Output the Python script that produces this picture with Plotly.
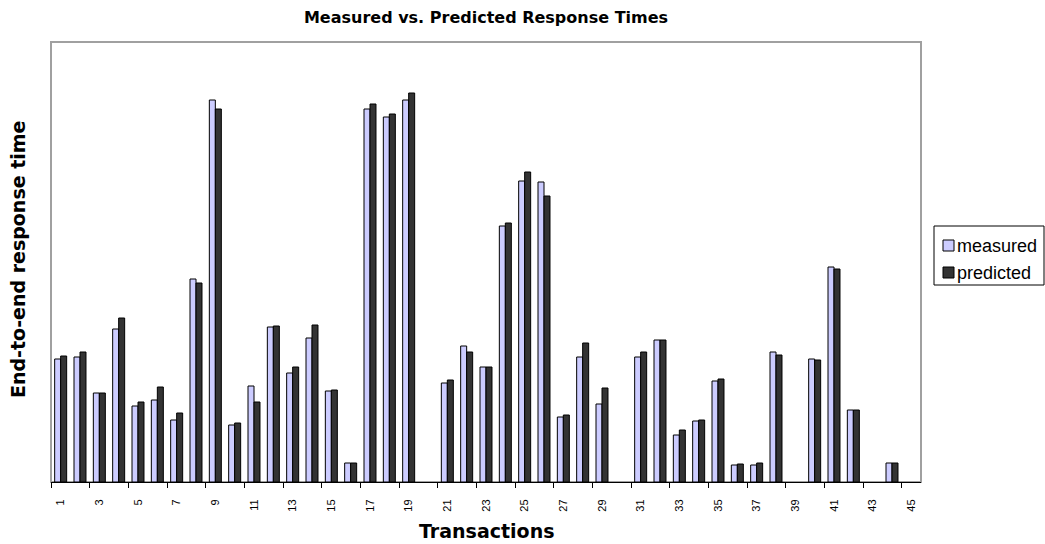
import plotly.graph_objects as go

transactions = [str(i) for i in range(1, 46)]
measured = [123, 125, 89, 153, 76, 82, 62, 203, 382, 57, 96, 155, 109, 144, 91,
            19, 373, 365, 382, None, 99, 136, 115, 256, 301, 300, 65, 125, 78, None,
            125, 142, 47, 61, 101, 17, 17, 130, None, 123, 215, 72, None, 19, None]
predicted = [126, 130, 89, 164, 80, 95, 69, 199, 373, 59, 80, 156, 115, 157, 92,
             19, 378, 368, 389, None, 102, 130, 115, 259, 310, 286, 67, 139, 94, None,
             130, 142, 52, 62, 103, 18, 19, 127, None, 122, 213, 72, None, 19, None]
tick_labels = [str(i) for i in range(1, 46, 2)]
series_names = ["measured", "predicted"]
colors = ["#CCCCFF", "#333333"]

W, H = 1045, 544
L, R, T, B = 51, 124, 42, 62

fig = go.Figure()
for name, vals, col in zip(series_names, [measured, predicted], colors):
    fig.add_trace(go.Bar(x=transactions, y=vals, name=name,
                         marker=dict(color=col, line=dict(color="#000000", width=1)),
                         showlegend=False))

# tick marks sit on the category boundaries left of every labelled category
boundary_ticks = [int(t) - 0.5 for t in tick_labels]
# invisible helper trace so the tick-mark axis is drawn
fig.add_trace(go.Scatter(x=boundary_ticks, y=[0] * len(boundary_ticks), xaxis="x2",
                         mode="markers", marker=dict(opacity=0), showlegend=False,
                         hoverinfo="skip"))

fig.update_layout(
    width=W, height=H,
    margin=dict(l=L, r=R, t=T, b=B, pad=0),
    paper_bgcolor="white", plot_bgcolor="white",
    barmode="group", bargap=0.38, bargroupgap=0,
    font=dict(family="DejaVu Sans", color="black"),
    title=dict(text="<b>Measured vs. Predicted Response Times</b>",
               x=(L + (W - R)) / 2 / W, xanchor="center",
               y=1 - 17 / H, yanchor="middle", yref="container",
               font=dict(size=16, family="DejaVu Sans")),
    xaxis=dict(type="category", tickmode="array", tickvals=tick_labels, ticktext=tick_labels,
               ticks="outside", ticklen=12, tickcolor="rgba(0,0,0,0)",
               tickangle=-90, tickfont=dict(size=11, family="Liberation Sans"),
               showline=True, linecolor="black", linewidth=1, showgrid=False,
               zeroline=False, range=[-0.5, len(transactions) - 0.5]),
    xaxis2=dict(overlaying="x", anchor="y", side="bottom", type="linear",
                range=[0.5, len(transactions) + 0.5], tickmode="array",
                tickvals=boundary_ticks, showticklabels=False,
                ticks="outside", ticklen=5, tickcolor="black", tickwidth=1,
                showline=False, showgrid=False, zeroline=False),
    yaxis=dict(range=[0, 440], showticklabels=False, ticks="", showgrid=False,
               zeroline=False, showline=False),
)

# plot-area border (gray)
fig.add_shape(type="rect", xref="paper", yref="paper", x0=0, x1=1, y0=0, y1=1,
              line=dict(color="#A0A0A0", width=2), layer="below")

# axis titles
fig.add_annotation(text="<b>End-to-end response time</b>", xref="paper", yref="paper",
                   x=0, y=0.5, xanchor="center", yanchor="middle", xshift=-33, yshift=2,
                   textangle=-90, showarrow=False, font=dict(size=19, family="DejaVu Sans"))
fig.add_annotation(text="<b>Transactions</b>", xref="paper", yref="paper",
                   x=0.5, y=0, xanchor="center", yanchor="middle", yshift=-49,
                   showarrow=False, font=dict(size=19, family="DejaVu Sans"))

# manual legend
pw = W - L - R
ph = H - T - B
def px_x(p):
    return (p - L) / pw
def px_y(p):
    return (H - B - p) / ph

fig.add_shape(type="rect", xref="paper", yref="paper",
              x0=px_x(934), x1=px_x(1044), y0=px_y(285), y1=px_y(226),
              line=dict(color="black", width=1), fillcolor="white")
for i, (name, col) in enumerate(zip(series_names, colors)):
    cy = 246 + i * 27
    fig.add_shape(type="rect", xref="paper", yref="paper",
                  x0=px_x(943), x1=px_x(954), y0=px_y(cy + 5), y1=px_y(cy - 6),
                  line=dict(color="black", width=1), fillcolor=col)
    fig.add_annotation(text=name, xref="paper", yref="paper", x=px_x(955), y=px_y(cy),
                       xanchor="left", yanchor="middle", showarrow=False,
                       font=dict(size=18, family="Liberation Sans"))

fig.write_html("out.html")
